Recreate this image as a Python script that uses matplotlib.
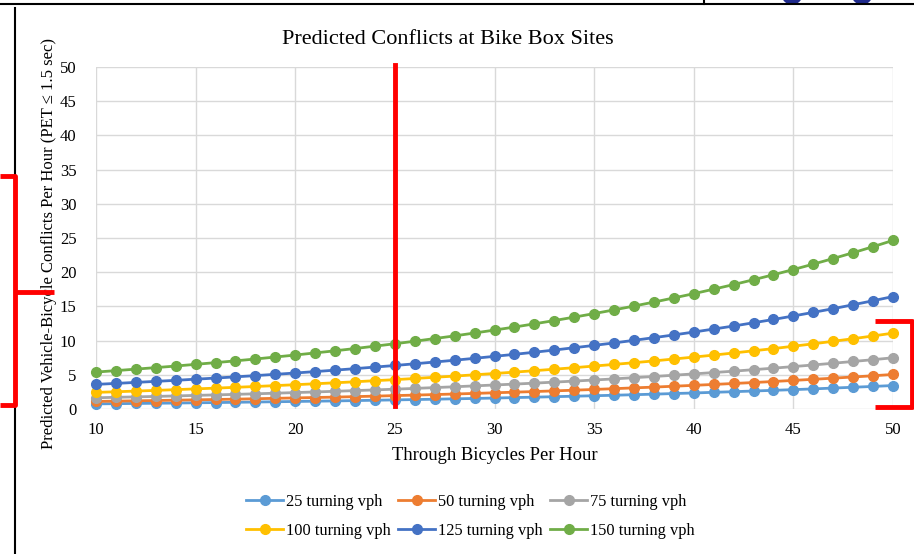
import matplotlib
matplotlib.use("Agg")
import matplotlib.pyplot as plt
from matplotlib.lines import Line2D
from matplotlib.patches import Circle

plt.rcParams["font.family"] = ["Liberation Serif", "DejaVu Serif"]

# donnees (conflits predits / heure)
bikes = list(range(10, 51))
labels = ["25 turning vph", "50 turning vph", "75 turning vph",
          "100 turning vph", "125 turning vph", "150 turning vph"]
colors = ["#5b9bd5", "#ed7d31", "#a5a5a5", "#ffc000", "#4472c4", "#70ad47"]

vph25 = [0.75, 0.78, 0.81, 0.84, 0.87, 0.91, 0.94, 0.98, 1.02, 1.06, 1.10,
         1.14, 1.18, 1.23, 1.28, 1.33, 1.38, 1.43, 1.49, 1.54, 1.60, 1.67,
         1.73, 1.80, 1.87, 1.94, 2.01, 2.09, 2.17, 2.26, 2.34, 2.44, 2.53,
         2.63, 2.73, 2.83, 2.94, 3.06, 3.18, 3.30, 3.43]
vph50 = [1.11, 1.15, 1.20, 1.24, 1.29, 1.34, 1.39, 1.44, 1.50, 1.56, 1.62,
         1.68, 1.74, 1.81, 1.88, 1.96, 2.03, 2.11, 2.19, 2.28, 2.37, 2.46,
         2.55, 2.65, 2.75, 2.86, 2.97, 3.09, 3.20, 3.33, 3.46, 3.59, 3.73,
         3.87, 4.02, 4.18, 4.34, 4.51, 4.68, 4.86, 5.05]
vph75 = [1.64, 1.71, 1.77, 1.84, 1.91, 1.99, 2.06, 2.14, 2.22, 2.31, 2.40,
         2.49, 2.59, 2.69, 2.79, 2.90, 3.01, 3.13, 3.25, 3.38, 3.51, 3.64,
         3.78, 3.93, 4.08, 4.24, 4.40, 4.58, 4.75, 4.94, 5.13, 5.33, 5.53,
         5.75, 5.97, 6.20, 6.44, 6.69, 6.95, 7.21, 7.49]
vph100 = [2.43, 2.52, 2.62, 2.72, 2.83, 2.94, 3.05, 3.17, 3.29, 3.42, 3.55,
          3.69, 3.83, 3.98, 4.14, 4.29, 4.46, 4.64, 4.81, 5.00, 5.19, 5.39,
          5.60, 5.82, 6.04, 6.28, 6.52, 6.77, 7.03, 7.31, 7.59, 7.88, 8.19,
          8.51, 8.83, 9.18, 9.53, 9.90, 10.28, 10.68, 11.09]
vph125 = [3.60, 3.74, 3.89, 4.04, 4.19, 4.36, 4.52, 4.70, 4.88, 5.07, 5.26,
          5.47, 5.68, 5.90, 6.13, 6.36, 6.61, 6.87, 7.13, 7.41, 7.70, 7.99,
          8.30, 8.62, 8.96, 9.30, 9.66, 10.04, 10.43, 10.83, 11.25, 11.69,
          12.13, 12.61, 13.09, 13.60, 14.13, 14.67, 15.24, 15.83, 16.44]
vph150 = [5.40, 5.61, 5.83, 6.05, 6.28, 6.53, 6.78, 7.04, 7.31, 7.60, 7.89,
          8.20, 8.51, 8.84, 9.19, 9.54, 9.91, 10.30, 10.69, 11.11, 11.54,
          11.98, 12.45, 12.93, 13.43, 13.95, 14.49, 15.05, 15.63, 16.24,
          16.86, 17.52, 18.19, 18.90, 19.63, 20.39, 21.18, 22.00, 22.85,
          23.73, 24.65]
series = [vph25, vph50, vph75, vph100, vph125, vph150]

W, H = 914, 554
fig = plt.figure(figsize=(W / 100, H / 100), dpi=100)
ax = fig.add_axes([96 / W, 1 - 409 / H, (893 - 96) / W, (409 - 67) / H])

handles = []
for ys, lab, c in zip(series, labels, colors):
    h, = ax.plot(bikes, ys, "-o", color=c, lw=2.0, ms=7, label=lab,
                 clip_on=False)
    handles.append(h)

ax.set_xlim(10, 50)
ax.set_ylim(0, 50)
ax.set_xticks(range(10, 51, 5))
ax.set_yticks(range(0, 51, 5))
ax.grid(True, color="#d9d9d9", lw=1)
ax.set_axisbelow(True)
for s in ax.spines.values():
    s.set_visible(False)
ax.tick_params(length=0, labelsize=12)
ax.tick_params(axis="y", pad=14)
ax.tick_params(axis="x", pad=9)
fig.text(448 / W, 1 - 40 / H, "Predicted Conflicts at Bike Box Sites",
         fontsize=16, ha="center", va="center")
ax.set_xlabel("Through Bicycles Per Hour", fontsize=13.4, labelpad=7)
ax.set_ylabel("Predicted Vehicle-Bicycle Conflicts Per Hour (PET \u2264 1.5 sec)",
              fontsize=12)
ax.yaxis.set_label_coords(-0.049, 0.485)

# legende remplie par lignes comme dans Excel
order = [0, 3, 1, 4, 2, 5]
ax.legend([handles[i] for i in order], [labels[i] for i in order],
          loc="center", bbox_to_anchor=(0.47, -0.314), ncol=3,
          frameon=False, fontsize=11.8, handlelength=2.25, handletextpad=0.2,
          columnspacing=0.43, labelspacing=0.8, borderpad=0)

# trait rouge vertical a x = 25
ax.plot([25, 25], [0.4, 50.3], color="#ff0000", lw=3.5, clip_on=False,
        zorder=5)

# calque pixel pour les traits de page et les accolades rouges
ov = fig.add_axes([0, 0, 1, 1], zorder=10)
ov.set_xlim(0, W)
ov.set_ylim(H, 0)
ov.axis("off")
ov.patch.set_alpha(0)
ov.add_line(Line2D([0, W], [4, 4], color="black", lw=1.5))
ov.add_line(Line2D([704, 704], [0, 4], color="black", lw=1.5))
ov.add_line(Line2D([15, 15], [8, H], color="black", lw=1.5))
for cx in (792, 862):
    ov.add_patch(Circle((cx, -6), 10, color="#1f2a8c"))
red = dict(color="#ff0000", lw=3.5, solid_capstyle="butt")
ov.add_line(Line2D([0, 15, 15, 0], [176, 176, 405, 405], **red))
ov.add_line(Line2D([15, 54], [292, 292], **red))
ov.add_line(Line2D([875, 912, 912, 875], [321, 321, 407, 407], **red))

fig.savefig("out.png", dpi=100)
